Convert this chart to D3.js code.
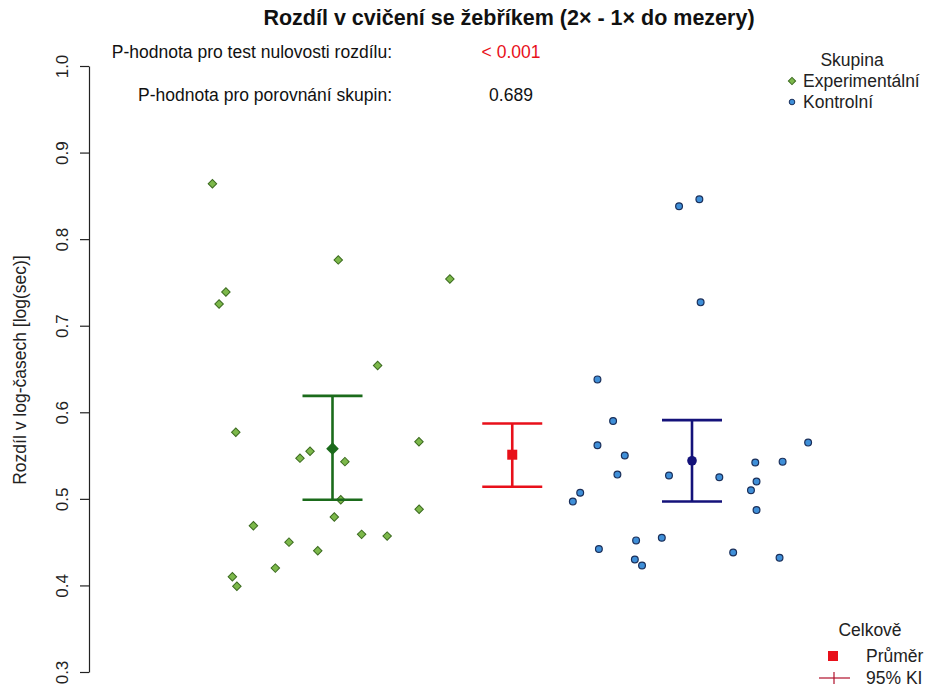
<!DOCTYPE html>
<html>
<head>
<meta charset="utf-8">
<script src="https://cdn.jsdelivr.net/npm/d3@7.8.5/dist/d3.min.js"></script>
<style>
  body { margin: 0; background: #fff; }
  text { font-family: "Liberation Sans", Arial, sans-serif; }
</style>
</head>
<body>
<div id="chart"></div>
<script>
// group positions on the x scale: 1 = Experimentální, 2 = Celkově, 3 = Kontrolní
const expValues = [0.864, 0.776, 0.754, 0.739, 0.725, 0.654, 0.577, 0.566, 0.555, 0.547, 0.543,
    0.499, 0.488, 0.479, 0.469, 0.459, 0.457, 0.450, 0.440, 0.420, 0.410, 0.399];
const expJitter = [-0.668, 0.032, 0.653, -0.593, -0.631, 0.251, -0.538, 0.481, -0.125, -0.181, 0.069,
    0.046, 0.482, 0.010, -0.440, 0.162, 0.304, -0.242, -0.082, -0.318, -0.557, -0.532];

const ctrlValues = [0.838, 0.846, 0.727, 0.638, 0.590, 0.562, 0.550, 0.565, 0.542, 0.543, 0.528,
    0.527, 0.525, 0.520, 0.510, 0.507, 0.497, 0.487, 0.455, 0.452, 0.442, 0.438, 0.432, 0.430, 0.423];
const ctrlJitter = [-0.072, 0.041, 0.048, -0.526, -0.439, -0.526, -0.374, 0.646, 0.352, 0.504, -0.415,
    -0.128, 0.152, 0.359, 0.328, -0.622, -0.663, 0.359, -0.168, -0.311, -0.518, 0.229, 0.487, -0.318, -0.278];

// mean and 95% CI per group
const summaries = [
    { group: 1, mean: 0.558, lower: 0.499, upper: 0.619, color: '#1b6b1b', shape: 'diamond' },
    { group: 2, mean: 0.551, lower: 0.514, upper: 0.587, color: '#e8101a', shape: 'square' },
    { group: 3, mean: 0.544, lower: 0.497, upper: 0.591, color: '#14127a', shape: 'circle' }
];

const yTicks = [0.3, 0.4, 0.5, 0.6, 0.7, 0.8, 0.9, 1.0];

const title = 'Rozdíl v cvičení se žebříkem (2× - 1× do mezery)';
const yLabel = 'Rozdíl v log-časech [log(sec)]';
const pRows = [
    { label: 'P-hodnota pro test nulovosti rozdílu:', value: '< 0.001', color: '#e8101a' },
    { label: 'P-hodnota pro porovnání skupin:', value: '0.689', color: '#111' }
];

const width = 930, height = 689;
const fs = 17.5;

const svg = d3.select('#chart').append('svg')
    .attr('width', width)
    .attr('height', height);

const x = d3.scaleLinear().domain([1, 3]).range([332.5, 692]);
const y = d3.scaleLinear().domain([0.3, 1.0]).range([672, 66]);

// y axis
const yAxis = svg.append('g')
    .attr('transform', 'translate(89,0)')
    .call(d3.axisLeft(y).tickValues(yTicks).tickFormat(d3.format('.1f')).tickSize(9).tickSizeOuter(0));
yAxis.select('.domain').attr('stroke', '#222').attr('stroke-width', 1.2);
yAxis.selectAll('.tick line').attr('stroke', '#222').attr('stroke-width', 1.2);
yAxis.selectAll('.tick text')
    .attr('transform', 'rotate(-90)')
    .attr('x', 0)
    .attr('y', -21)
    .attr('dy', 0)
    .attr('text-anchor', 'middle')
    .attr('font-size', 17)
    .attr('fill', '#222')
    .style('font-family', '"Liberation Sans", Arial, sans-serif');

svg.append('text')
    .attr('transform', `translate(26,370) rotate(-90)`)
    .attr('text-anchor', 'middle')
    .attr('font-size', fs)
    .attr('fill', '#222')
    .text(yLabel);

// title
svg.append('text')
    .attr('x', 509)
    .attr('y', 25)
    .attr('text-anchor', 'middle')
    .attr('font-size', 21.5)
    .attr('font-weight', 'bold')
    .attr('fill', '#111')
    .text(title);

// p-values
pRows.forEach((r, i) => {
    const ty = 58 + i * 43;
    svg.append('text')
        .attr('x', 392).attr('y', ty)
        .attr('text-anchor', 'end')
        .attr('font-size', fs)
        .attr('fill', '#111')
        .text(r.label);
    svg.append('text')
        .attr('x', 511).attr('y', ty)
        .attr('text-anchor', 'middle')
        .attr('font-size', fs)
        .attr('fill', r.color)
        .text(r.value);
});

const diamond = d3.symbol().type(d3.symbolSquare).size(36);

// experimental points
svg.append('g').selectAll('path')
    .data(expValues)
    .enter()
    .append('path')
    .attr('d', diamond)
    .attr('transform', (d, i) => `translate(${x(1 + expJitter[i])},${y(d)}) rotate(45)`)
    .attr('fill', '#7cb84a')
    .attr('stroke', '#3b6a1f')
    .attr('stroke-width', 1);

// control points
svg.append('g').selectAll('circle')
    .data(ctrlValues)
    .enter()
    .append('circle')
    .attr('cx', (d, i) => x(3 + ctrlJitter[i]))
    .attr('cy', d => y(d))
    .attr('r', 3.4)
    .attr('fill', '#3f8fd8')
    .attr('stroke', '#1a2f5a')
    .attr('stroke-width', 1.2);

// means and confidence intervals
const capHalf = 30;
summaries.forEach(s => {
    const g = svg.append('g').attr('stroke', s.color).attr('stroke-width', 2.6);
    const cx = x(s.group);
    g.append('line').attr('x1', cx).attr('x2', cx).attr('y1', y(s.lower)).attr('y2', y(s.upper));
    g.append('line').attr('x1', cx - capHalf).attr('x2', cx + capHalf).attr('y1', y(s.upper)).attr('y2', y(s.upper));
    g.append('line').attr('x1', cx - capHalf).attr('x2', cx + capHalf).attr('y1', y(s.lower)).attr('y2', y(s.lower));
    if (s.shape === 'diamond') {
        svg.append('path')
            .attr('d', d3.symbol().type(d3.symbolSquare).size(80))
            .attr('transform', `translate(${cx},${y(s.mean)}) rotate(45)`)
            .attr('fill', s.color);
    } else if (s.shape === 'square') {
        svg.append('rect')
            .attr('x', cx - 5).attr('y', y(s.mean) - 5)
            .attr('width', 10).attr('height', 10)
            .attr('fill', s.color);
    } else {
        svg.append('circle')
            .attr('cx', cx).attr('cy', y(s.mean))
            .attr('r', 4.8)
            .attr('fill', s.color);
    }
});

// group legend
const lg = svg.append('g');
lg.append('text').attr('x', 852).attr('y', 66).attr('text-anchor', 'middle')
    .attr('font-size', fs).attr('fill', '#222').text('Skupina');
lg.append('path')
    .attr('d', d3.symbol().type(d3.symbolSquare).size(26))
    .attr('transform', 'translate(792,81) rotate(45)')
    .attr('fill', '#7cb84a').attr('stroke', '#3b6a1f');
lg.append('text').attr('x', 803).attr('y', 87).attr('font-size', fs).attr('fill', '#222').text('Experimentální');
lg.append('circle').attr('cx', 792).attr('cy', 102).attr('r', 2.8)
    .attr('fill', '#3f8fd8').attr('stroke', '#1a2f5a');
lg.append('text').attr('x', 803).attr('y', 108).attr('font-size', fs).attr('fill', '#222').text('Kontrolní');

// overall legend
const lg2 = svg.append('g');
lg2.append('text').attr('x', 870).attr('y', 636).attr('text-anchor', 'middle')
    .attr('font-size', fs).attr('fill', '#222').text('Celkově');
lg2.append('rect').attr('x', 828).attr('y', 651).attr('width', 10).attr('height', 10).attr('fill', '#e8101a');
lg2.append('text').attr('x', 866).attr('y', 662).attr('font-size', fs).attr('fill', '#222').text('Průměr');
lg2.append('line').attr('x1', 819).attr('x2', 850).attr('y1', 678).attr('y2', 678)
    .attr('stroke', '#b0102a').attr('stroke-width', 1.2);
lg2.append('line').attr('x1', 834).attr('x2', 834).attr('y1', 672).attr('y2', 684)
    .attr('stroke', '#b0102a').attr('stroke-width', 1.2);
lg2.append('text').attr('x', 866).attr('y', 684).attr('font-size', fs).attr('fill', '#222').text('95% KI');
</script>
</body>
</html>
